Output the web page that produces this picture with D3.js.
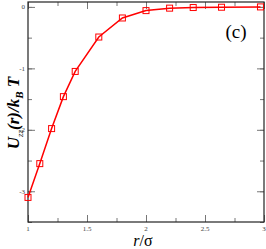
<!DOCTYPE html>
<html>
<head>
<meta charset="utf-8">
<script src="https://cdnjs.cloudflare.com/ajax/libs/d3/7.8.5/d3.min.js"></script>
<style>
  body { margin: 0; background: #fff; }
  text { font-family: "Liberation Serif", "DejaVu Serif", serif; }
</style>
</head>
<body>
<script>
var width = 266,
    height = 249;

// data
var rVals = [1.0, 1.1, 1.2, 1.3, 1.4, 1.6, 1.8, 2.0, 2.2, 2.4, 2.64, 2.97];
var uVals = [-3.10, -2.55, -1.98, -1.46, -1.05, -0.49, -0.18, -0.06, -0.02, -0.01, -0.005, 0.0];
var xTicks = [1, 1.5, 2, 2.5, 3];
var xTickLabels = ["1", "1.5", "2", "2.5", "3"];
var yTicks = [0, -1, -2, -3];
var yTickLabels = ["0", "-1", "-2", "-3"];

var plotL = 28, plotR = 264, plotT = 2, plotB = 222;

var x = d3.scaleLinear().domain([1, 3]).range([plotL, plotR]);
var y = d3.scaleLinear().domain([-3.5, 0.08]).range([plotB, plotT]);

var svg = d3.select("body").append("svg")
    .attr("width", width)
    .attr("height", height);

// inward ticks on all four sides
var xMinor = d3.range(1, 3.001, 0.25);
var yMinor = d3.range(-3.5, 0.001, 0.5);

svg.append("g").attr("transform", "translate(0," + plotB + ")")
    .call(d3.axisBottom(x).tickValues(xMinor).tickSize(-4).tickFormat(""));
svg.append("g").attr("transform", "translate(0," + plotB + ")")
    .call(d3.axisBottom(x).tickValues(xTicks).tickSize(-7).tickFormat(""));
svg.append("g").attr("transform", "translate(0," + plotT + ")")
    .call(d3.axisTop(x).tickValues(xMinor).tickSize(-4).tickFormat(""));
svg.append("g").attr("transform", "translate(0," + plotT + ")")
    .call(d3.axisTop(x).tickValues(xTicks).tickSize(-7).tickFormat(""));
svg.append("g").attr("transform", "translate(" + plotL + ",0)")
    .call(d3.axisLeft(y).tickValues(yMinor).tickSize(-4).tickFormat(""));
svg.append("g").attr("transform", "translate(" + plotL + ",0)")
    .call(d3.axisLeft(y).tickValues(yTicks).tickSize(-7).tickFormat(""));
svg.append("g").attr("transform", "translate(" + plotR + ",0)")
    .call(d3.axisRight(y).tickValues(yMinor).tickSize(-4).tickFormat(""));
svg.append("g").attr("transform", "translate(" + plotR + ",0)")
    .call(d3.axisRight(y).tickValues(yTicks).tickSize(-7).tickFormat(""));

svg.selectAll(".domain").remove();
svg.selectAll(".tick line").attr("stroke", "#777").attr("stroke-width", 1);

// frame
svg.append("rect")
    .attr("x", plotL).attr("y", plotT)
    .attr("width", plotR - plotL).attr("height", plotB - plotT)
    .attr("fill", "none").attr("stroke", "#222").attr("stroke-width", 1.2);

// tick labels
svg.selectAll("text.xl").data(xTicks).enter().append("text")
    .attr("x", function(d){return x(d)})
    .attr("y", plotB + 9)
    .attr("text-anchor", "middle")
    .style("font-size", "7px").style("fill", "#444")
    .text(function(d,i){return xTickLabels[i]});

svg.selectAll("text.yl").data(yTicks).enter().append("text")
    .attr("x", plotL - 3)
    .attr("y", function(d){return y(d) + 2.5})
    .attr("text-anchor", "end")
    .style("font-size", "7px").style("fill", "#444")
    .text(function(d,i){return yTickLabels[i]});

// curve
var line = d3.line()
    .x(function(d,i){return x(rVals[i])})
    .y(function(d){return y(d)});

svg.append("path").datum(uVals)
    .attr("d", line)
    .attr("fill", "none")
    .attr("stroke", "#ff0000")
    .attr("stroke-width", 1.5);

svg.selectAll("rect.pt").data(uVals).enter().append("rect")
    .attr("x", function(d,i){return x(rVals[i]) - 3})
    .attr("y", function(d){return y(d) - 3})
    .attr("width", 6).attr("height", 6)
    .attr("fill", "none")
    .attr("stroke", "#ff0000")
    .attr("stroke-width", 1);

// labels
svg.append("text")
    .attr("x", 236).attr("y", 38)
    .attr("text-anchor", "middle")
    .style("font-size", "19px")
    .text("(c)");

svg.append("text")
    .attr("x", 143).attr("y", 246)
    .attr("text-anchor", "middle")
    .style("font-size", "16px")
    .html('<tspan font-style="italic">r</tspan>/σ');

svg.append("text")
    .attr("transform", "translate(19,113) rotate(-90)")
    .attr("text-anchor", "middle")
    .style("font-size", "17px")
    .style("font-style", "italic")
    .style("font-weight", "bold")
    .html('U<tspan font-size="9px" font-weight="normal" dy="4">zz</tspan><tspan dy="-4">(r)/k</tspan><tspan font-size="11px" dy="4">B</tspan><tspan dy="-4"> T</tspan>');
</script>
</body>
</html>
